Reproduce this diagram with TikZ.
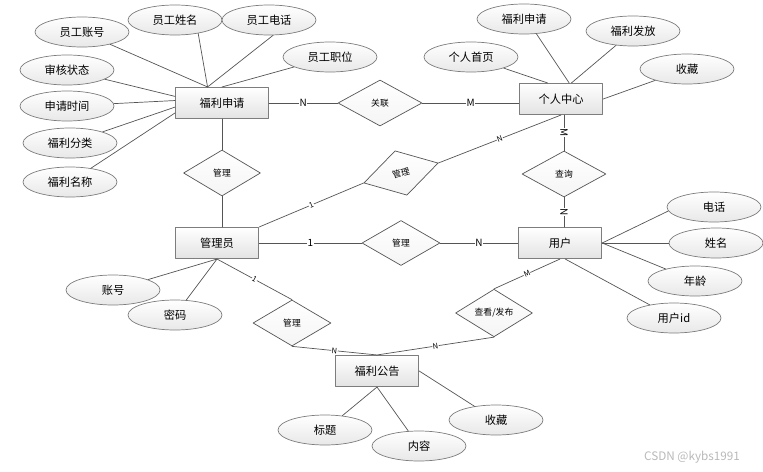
\documentclass[tikz,border=0pt]{standalone}
\usepackage{fontspec}
\setmainfont{Noto Sans CJK SC}
\usetikzlibrary{shapes.geometric,shadows}
\definecolor{linegray}{RGB}{85,85,85}
\definecolor{boxgray}{RGB}{125,125,125}
\tikzset{
  ent/.style={rectangle,draw=boxgray,line width=0.9pt,top color=white,bottom color=gray!22,
    minimum width=2.5cm,minimum height=0.93cm,font=\fontsize{9.6}{11}\selectfont,
    drop shadow={shadow xshift=0.7pt,shadow yshift=-0.7pt,opacity=0.25}},
  attr/.style={ellipse,draw=boxgray,line width=0.6pt,top color=white,bottom color=gray!18,
    minimum width=2.82cm,minimum height=0.9cm,inner sep=0pt,font=\fontsize{9.6}{11}\selectfont},
  rel/.style={diamond,draw=linegray,line width=0.6pt,top color=white,bottom color=gray!8,
    minimum width=2.4cm,minimum height=1.38cm,inner sep=0pt,font=\fontsize{7.5}{9}\selectfont},
  card/.style={fill=white,inner sep=0.4pt,font=\fontsize{8.5}{9}\selectfont},
  smallcard/.style={card,sloped,font=\fontsize{6.5}{7}\selectfont},
  link/.style={draw=linegray,line width=0.6pt}
}
\begin{document}
\begin{tikzpicture}[line cap=round,line join=round]
  \useasboundingbox (0,0) rectangle (22.89,14.13);
  \node[ent,minimum width=2.79cm] (apply) at (6.66,11.04) {福利申请};
  \node[ent] (center) at (16.83,11.16) {个人中心};
  \node[ent] (admin) at (6.51,6.84) {管理员};
  \node[ent] (user) at (16.80,6.84) {用户};
  \node[ent] (notice) at (11.31,3.00) {福利公告};
  \node[rel,minimum width=2.52cm] (assoc) at (11.40,11.04) {关联};
  \node[rel,minimum width=2.31cm] (mgA) at (6.66,8.94) {管理};
  \node[rel,minimum width=2.31cm,rotate=15] (mgB) at (12.03,8.94) {管理};
  \node[rel,minimum width=2.52cm] (query) at (16.92,8.91) {查询};
  \node[rel,minimum width=2.34cm,minimum height=1.35cm] (mgC) at (12.03,6.84) {管理};
  \node[rel,minimum width=2.31cm,minimum height=1.41cm] (view) at (14.82,4.74) {查看/发布};
  \node[rel,minimum width=2.34cm] (mgD) at (8.76,4.44) {管理};
  \node[attr] (a1) at (2.46,13.17) {员工账号};
  \node[attr] (a2) at (5.25,13.53) {员工姓名};
  \node[attr] (a3) at (8.07,13.53) {员工电话};
  \node[attr] (a4) at (9.90,12.42) {员工职位};
  \node[attr] (a5) at (2.01,12.03) {审核状态};
  \node[attr] (a6) at (2.01,10.95) {申请时间};
  \node[attr] (a7) at (2.10,9.84) {福利分类};
  \node[attr] (a8) at (2.10,8.67) {福利名称};
  \node[attr] (c1) at (14.13,12.42) {个人首页};
  \node[attr] (c2) at (15.72,13.56) {福利申请};
  \node[attr] (c3) at (18.99,13.20) {福利发放};
  \node[attr] (c4) at (20.61,12.06) {收藏};
  \node[attr] (u1) at (21.42,7.92) {电话};
  \node[attr] (u2) at (21.48,6.84) {姓名};
  \node[attr] (u3) at (20.85,5.70) {年龄};
  \node[attr] (u4) at (20.22,4.59) {用户id};
  \node[attr] (m1) at (3.39,5.43) {账号};
  \node[attr] (m2) at (5.25,4.68) {密码};
  \node[attr] (n1) at (9.75,1.23) {标题};
  \node[attr] (n2) at (12.57,0.75) {内容};
  \node[attr] (n3) at (14.88,1.53) {收藏};
  \node[text=gray!55,font=\fontsize{10}{12}\selectfont] (mark) at (20.76,0.42) {CSDN @kybs1991};
  \draw[link] (a1) -- (apply.132);
  \draw[link] (a2.-30) -- (apply.132);
  \draw[link] (a3.-75) -- (apply.132);
  \draw[link] (a4) -- (apply.north);
  \draw[link] (a5) -- (apply.172);
  \draw[link] (a6) -- (apply.177);
  \draw[link] (a7) -- (apply.185);
  \draw[link] (a8) -- (apply.192);
  \draw[link] (c1) -- (center.130);
  \draw[link] (c2.-50) -- (center.63);
  \draw[link] (c3) -- (center.57);
  \draw[link] (c4) -- (center.east);
  \draw[link] (u1.185) -- (user.east);
  \draw[link] (u2) -- (user.east);
  \draw[link] (u3) -- (user.east);
  \draw[link] (u4) -- (user.-72);
  \draw[link] (m1) -- (admin.south);
  \draw[link] (m2) -- (admin.south);
  \draw[link] (n1) -- (notice.south);
  \draw[link] (n2) -- (notice.south);
  \draw[link] (n3) -- (notice.east);
  \draw[link] (apply.east) -- node[card]{N} (assoc.west);
  \draw[link] (assoc.east) -- node[card]{M} (assoc.east -| center.west);
  \draw[link] (apply.south) -- (mgA.north);
  \draw[link] (mgA.south) -- (mgA.south |- admin.north);
  \draw[link] (query.north |- center.south) -- node[card,sloped]{M} (query.north);
  \draw[link] (query.south) -- node[card,sloped]{N} (query.south |- user.north);
  \draw[link] (admin.north east) -- node[smallcard]{1} (mgB.west);
  \draw[link] (mgB.east) -- node[smallcard]{N} (center.south);
  \draw[link] (admin.east) -- node[card]{1} (mgC.west);
  \draw[link] (mgC.east) -- node[card]{N} (user.west);
  \draw[link] (admin.south) -- node[smallcard]{1} (mgD.north);
  \draw[link] (mgD.south) -- node[smallcard]{N} (notice.north);
  \draw[link] (user.south) -- node[smallcard]{M} (view.north);
  \draw[link] (view.south) -- node[smallcard]{N} (notice.north);
\end{tikzpicture}
\end{document}
